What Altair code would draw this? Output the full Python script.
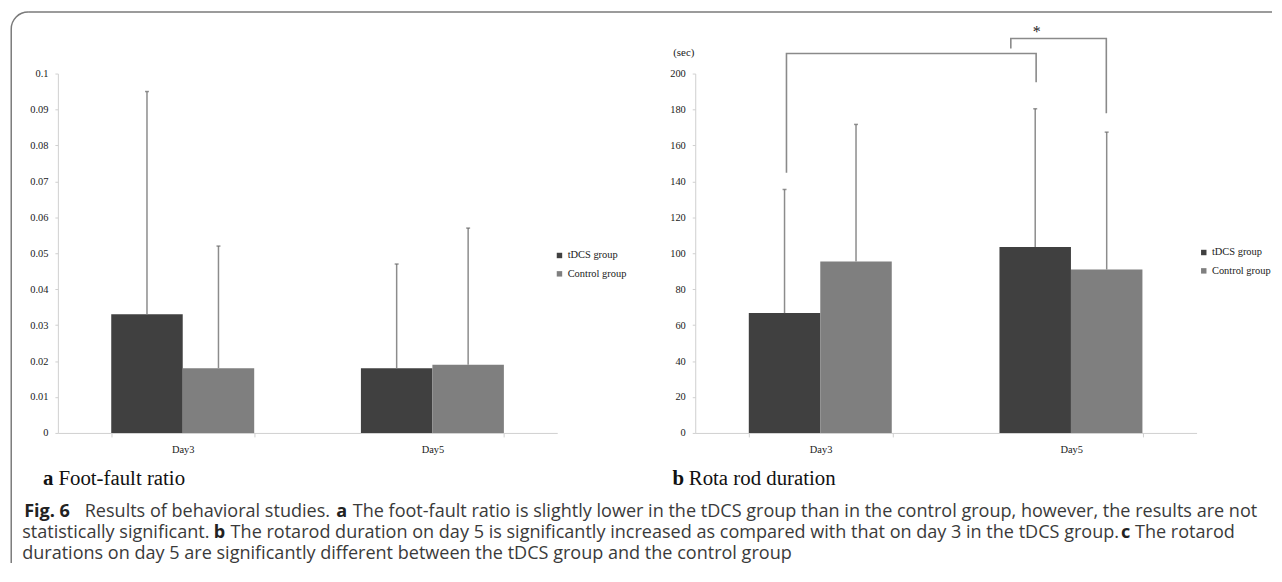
import altair as alt
import pandas as pd

# ---------------- data ----------------
DAYS = ["Day3", "Day5"]
GROUPS = ["tDCS group", "Control group"]
BAR_COLORS = ["#404040", "#7f7f7f"]

# a  Foot-fault ratio (bar height, top of error bar)
FF_TDCS_MEAN = [0.033, 0.018]
FF_TDCS_UPPER = [0.095, 0.047]
FF_CTRL_MEAN = [0.018, 0.019]
FF_CTRL_UPPER = [0.052, 0.057]
FF_TICKS = [0, 0.01, 0.02, 0.03, 0.04, 0.05, 0.06, 0.07, 0.08, 0.09, 0.1]

# b  Rota rod duration (sec)
RR_TDCS_MEAN = [66.7, 103.5]
RR_TDCS_UPPER = [135.5, 180.4]
RR_CTRL_MEAN = [95.4, 90.9]
RR_CTRL_UPPER = [171.7, 167.4]
RR_TICKS = [0, 20, 40, 60, 80, 100, 120, 140, 160, 180, 200]

# significance brackets (x in category units: 0-1 Day3, 1-2 Day5; y in sec)
BR_ID = ["p", "p", "p", "p", "q", "q", "q", "q"]
BR_ORDER = [0, 1, 2, 3, 0, 1, 2, 3]
BR_X = [0.364, 0.364, 1.360, 1.360, 1.259, 1.259, 1.640, 1.640]
BR_Y = [144.8, 211.2, 211.2, 195.2, 214.0, 219.5, 219.5, 177.9]
STAR_X = [1.362]
STAR_Y = [220.5]
STAR_TEXT = ["*"]

PANEL_A = ["a", "Foot-fault ratio"]
PANEL_B = ["b", "Rota rod duration"]

CAP_TEXT = [
    "Fig. 6",
    "Results of behavioral studies.",
    "a",
    "The foot-fault ratio is slightly lower in the tDCS group than in the control group, however, the results are not",
    "statistically significant.",
    "b",
    "The rotarod duration on day 5 is significantly increased as compared with that on day 3 in the tDCS group.",
    "c",
    "The rotarod",
    "durations on day 5 are significantly different between the tDCS group and the control group",
]
CAP_BOLD = [True, False, True, False, False, True, False, True, False, False]
CAP_LINE = [0, 0, 0, 0, 1, 1, 1, 1, 1, 2]
CAP_XPAGE = [23, 84, 337.5, 354, 21, 214, 231, 1128, 1142, 21]

# ---------------- layout ----------------
SERIF = "Liberation Serif"
SANS = "Open Sans"
CAP_SIZE = 18.2
AXIS_GRAY = "#d0d0d0"
W1, W2, H = 503, 505, 362
SPACING = 139
O1 = (57, 73)                      # page position of left plot origin
O2 = (O1[0] + W1 + SPACING, 73)    # page position of right plot origin
CAP_YPAGE = [515, 536, 557]
BORDER = "#7a7a7a"


def make_df(tm, tu, cm, cu):
    rows = []
    for i, d in enumerate(DAYS):
        rows.append({"Day": d, "Group": GROUPS[0], "Mean": tm[i], "Upper": tu[i]})
        rows.append({"Day": d, "Group": GROUPS[1], "Mean": cm[i], "Upper": cu[i]})
    return pd.DataFrame(rows)


ff_df = make_df(FF_TDCS_MEAN, FF_TDCS_UPPER, FF_CTRL_MEAN, FF_CTRL_UPPER)
rr_df = make_df(RR_TDCS_MEAN, RR_TDCS_UPPER, RR_CTRL_MEAN, RR_CTRL_UPPER)
br_df = pd.DataFrame({"bid": BR_ID, "bo": BR_ORDER, "bx": BR_X, "by": BR_Y})
star_df = pd.DataFrame({"sx": STAR_X, "sy": STAR_Y, "st": STAR_TEXT})
dummy = pd.DataFrame({"d": [0]})


def x_enc():
    return alt.X(
        "Day:N", sort=DAYS, title=None,
        scale=alt.Scale(paddingInner=0.4274, paddingOuter=0.2137),
        axis=alt.Axis(labelAngle=0, tickBand="extent", tickSize=4, labelPadding=8,
                      domainColor=AXIS_GRAY, tickColor=AXIS_GRAY, labelFont=SERIF,
                      labelFontSize=10.5, labelColor="#222", grid=False),
    )


def xo_enc():
    return alt.XOffset("Group:N", sort=GROUPS,
                       scale=alt.Scale(paddingInner=0, paddingOuter=0))


def y_enc(field, domain, ticks, fmt, title):
    ax = dict(values=ticks, format=fmt, grid=False, tickSize=3, labelPadding=7,
              domainColor=AXIS_GRAY, tickColor=AXIS_GRAY, labelFont=SERIF,
              labelFontSize=10.5, labelColor="#1a1a1a")
    if title:
        ax.update(titleAngle=0, titleX=-12, titleY=-21, titleAlign="center",
                  titleBaseline="middle", titleFont=SERIF, titleFontSize=11,
                  titleFontWeight="normal", titleColor="#1a1a1a")
        return alt.Y(field, title=title,
                     scale=alt.Scale(domain=domain, nice=False, zero=True),
                     axis=alt.Axis(**ax))
    return alt.Y(field, title=None,
                 scale=alt.Scale(domain=domain, nice=False, zero=True),
                 axis=alt.Axis(**ax))


def bar_layers(df, domain, ticks, fmt, title, lx, ly):
    bars = alt.Chart(df).mark_bar().encode(
        x=x_enc(), xOffset=xo_enc(),
        y=y_enc("Mean:Q", domain, ticks, fmt, title),
        color=alt.Color("Group:N", sort=GROUPS,
                        scale=alt.Scale(domain=GROUPS, range=BAR_COLORS),
                        legend=alt.Legend(orient="none", legendX=lx, legendY=ly,
                                          title=None, symbolType="square",
                                          symbolSize=30, symbolStrokeWidth=0,
                                          labelFont=SERIF, labelFontSize=10.5,
                                          labelColor="#1a1a1a", rowPadding=7.5,
                                          labelOffset=3, padding=0)),
    )
    err = alt.Chart(df).mark_rule(color="#8c8c8c", strokeWidth=1.5).encode(
        x=x_enc(), xOffset=xo_enc(),
        y=y_enc("Mean:Q", domain, ticks, fmt, title), y2="Upper:Q",
    )
    caps = alt.Chart(df).mark_tick(color="#6a6a6a", size=4, thickness=1.5).encode(
        x=x_enc(), xOffset=xo_enc(),
        y=y_enc("Upper:Q", domain, ticks, fmt, title),
    )
    return [bars, err, caps]


def txt(text, x, y, font, size, weight="normal", color="#333", align="left"):
    return alt.Chart(dummy).mark_text(
        align=align, baseline="middle", font=font, fontSize=size,
        fontWeight=weight, color=color,
    ).encode(text=alt.value(text), x=alt.value(x), y=alt.value(y))


# ---------------- left panel (a) ----------------
left_extra = []
left_extra.append(txt(PANEL_A[0], 42 - O1[0], 481 - O1[1], SERIF, 21, "bold", "#111"))
left_extra.append(txt(PANEL_A[1], 57.5 - O1[0], 481 - O1[1], SERIF, 21, "normal", "#111"))
for t, b, ln, xp in zip(CAP_TEXT, CAP_BOLD, CAP_LINE, CAP_XPAGE):
    left_extra.append(txt(t, xp - O1[0], CAP_YPAGE[ln] - O1[1], SANS, CAP_SIZE,
                          "bold" if b else "normal", "#222" if b else "#3a3a3a"))
# frame with rounded top-left corner
left_extra.append(alt.Chart(dummy).mark_rule(color=BORDER, strokeWidth=1.5).encode(
    x=alt.value(27 - O1[0]), x2=alt.value(1280 - O1[0]), y=alt.value(11 - O1[1])))
left_extra.append(alt.Chart(dummy).mark_rule(color=BORDER, strokeWidth=1.5).encode(
    x=alt.value(10 - O1[0]), y=alt.value(28 - O1[1]), y2=alt.value(566 - O1[1])))
left_extra.append(alt.Chart(dummy).mark_arc(fill=BORDER).encode(
    x=alt.value(27 - O1[0]), y=alt.value(28 - O1[1]),
    theta=alt.value(4.712389), theta2=alt.value(6.283185),
    radius=alt.value(17.75), radius2=alt.value(16.25)))

left = alt.layer(
    *bar_layers(ff_df, [0, 0.1], FF_TICKS, ".2~f", None, 500, 178),
    *left_extra,
).properties(width=W1, height=H)

# ---------------- right panel (b) ----------------
inner = alt.layer(*bar_layers(rr_df, [0, 200], RR_TICKS, "d", "(sec)", 507, 175))

bx = alt.X("bx:Q", scale=alt.Scale(domain=[0, 2], nice=False, zero=False), axis=None)
brackets = alt.Chart(br_df).mark_line(color="#8a8a8a", strokeWidth=1.6).encode(
    x=bx,
    y=y_enc("by:Q", [0, 200], RR_TICKS, "d", "(sec)"),
    detail="bid:N",
    order=alt.Order("bo:Q"),
)
star = alt.Chart(star_df).mark_text(font=SERIF, fontSize=16, baseline="alphabetic",
                                    color="#222").encode(
    x=alt.X("sx:Q", scale=alt.Scale(domain=[0, 2], nice=False, zero=False), axis=None),
    y=y_enc("sy:Q", [0, 200], RR_TICKS, "d", "(sec)"),
    text="st:N",
)
lab_b1 = txt(PANEL_B[0], 676 - O2[0], 481 - O2[1], SERIF, 21, "bold", "#111")
lab_b2 = txt(PANEL_B[1], 692.5 - O2[0], 481 - O2[1], SERIF, 21, "normal", "#111")

right = alt.layer(inner, brackets, star, lab_b1, lab_b2).resolve_scale(
    x="independent").properties(width=W2, height=H)

chart = alt.hconcat(left, right, spacing=SPACING, bounds="flush").resolve_scale(
    color="independent"
).properties(
    padding={"left": 1.25, "top": 0, "right": 0, "bottom": 0},
    background="white",
).configure_view(stroke="transparent")

chart.save("out.html", embed_options={"renderer": "svg", "actions": False})
